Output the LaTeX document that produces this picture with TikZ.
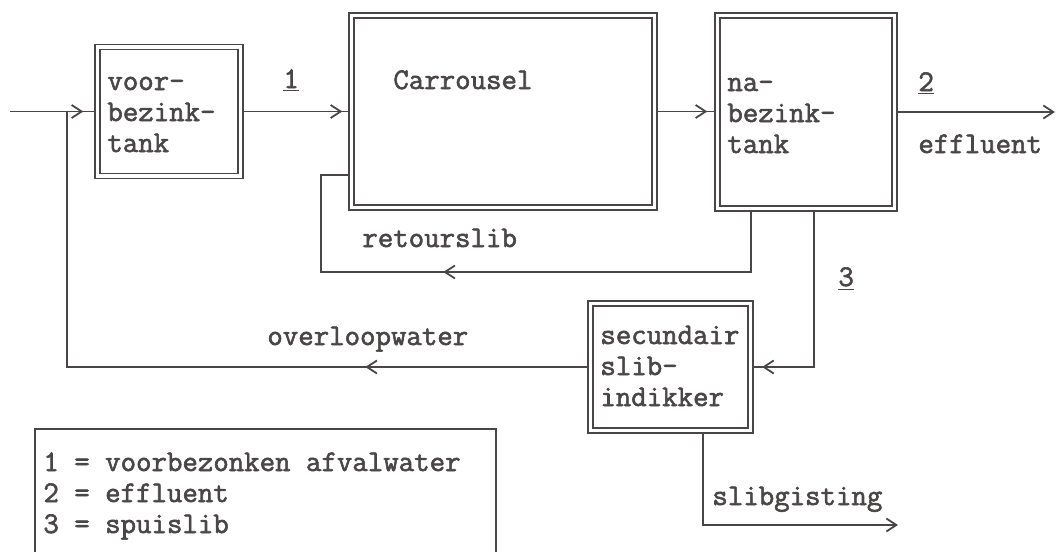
\documentclass[tikz,border=0pt]{standalone}
\usepackage{fontspec}
\setmonofont[FakeBold=2]{Latin Modern Mono}
\usetikzlibrary{arrows.meta,decorations.markings,calc}
\definecolor{ink}{HTML}{4A4646}
\begin{document}
\begin{tikzpicture}[x=0.5pt,y=-0.5pt,
  tank/.style={draw=ink, double=white, double distance=1.6pt, line width=0.8pt,
               outer sep=1.6pt, inner sep=0pt},
  flow/.style={draw=ink, line width=0.9pt},
  chev/.style={-{Straight Barb[length=5pt,width=6.5pt]}},
  midchev/.style={postaction={decorate}, decoration={markings,
      mark=at position #1 with {\arrow{Straight Barb[length=5pt,width=6.5pt]}}}},
  txt/.style={font=\ttfamily\fontsize{15}{15.5}\selectfont, text=ink, inner sep=0pt, align=left, anchor=base west}]
\useasboundingbox (0,0) rectangle (1057,552);

% boxes
\node[tank, minimum width=71.5pt, minimum height=64.5pt] (voor) at (169,111.5) {};
\node[tank, minimum width=151.5pt, minimum height=96pt] (carr) at (503,111.5) {};
\node[tank, minimum width=88.5pt, minimum height=96.5pt] (nab) at (806,112) {};
\node[tank, minimum width=80pt, minimum height=63.5pt] (sec) at (670.5,367) {};

% box texts (base anchor = last line baseline)
\node[txt] (voortxt) at (107,152) {voor-\\bezink-\\tank};
\node[txt] (carrtxt) at (393,89) {Carrousel};
\node[txt] (nabtxt) at (727,153) {na-\\bezink-\\tank};
\node[txt] (sectxt) at (600,406) {secundair\\slib-\\indikker};

% helper coordinates
\coordinate (in) at (10,111.5);
\coordinate (out) at (1055,112);
\coordinate (rx) at (751,0);
\coordinate (rb) at (321,272);
\coordinate (ry) at (0,175);
\coordinate (tx) at (814,0);
\coordinate (ov) at (67,367);
\coordinate (sx) at (703,0);
\coordinate (slibend) at (898,525);

% connectors
\draw[flow, midchev=-5.5pt] (in) -- (voor.west);
\draw[flow, midchev=-3pt] (voor.east) -- (voor.east -| carr.west);
\draw[flow, midchev=-3.5pt] (carr.east) -- (carr.east -| nab.west);
\draw[flow, chev] (nab.east) -- (out);
\draw[flow, midchev=184pt] (nab.south -| rx) |- (rb) |- (carr.west |- ry);
\draw[flow, midchev=-4.2pt] (nab.south -| tx) |- (sec.east);
\draw[flow, midchev=111pt] (sec.west) -- (ov) -- (in -| ov);
\draw[flow, chev] (sec.south -| sx) |- (slibend);

% labels
\node[txt] (l1) at (283,88) {\underline{1}};
\node[txt] (l2) at (918,91) {\underline{2}};
\node[txt] (l3) at (838,286) {\underline{3}};
\node[txt] (eff) at (918,153) {effluent};
\node[txt] (ret) at (362,247) {retourslib};
\node[txt] (ovl) at (267,345) {overloopwater};
\node[txt] (slg) at (712,505) {slibgisting};

% legend
\draw[flow] (35,560) |- (496,429) -- (496,560);
\node[txt] (leg) at (43,533) {1 = voorbezonken afvalwater\\2 = effluent\\3 = spuislib};
\end{tikzpicture}
\end{document}
